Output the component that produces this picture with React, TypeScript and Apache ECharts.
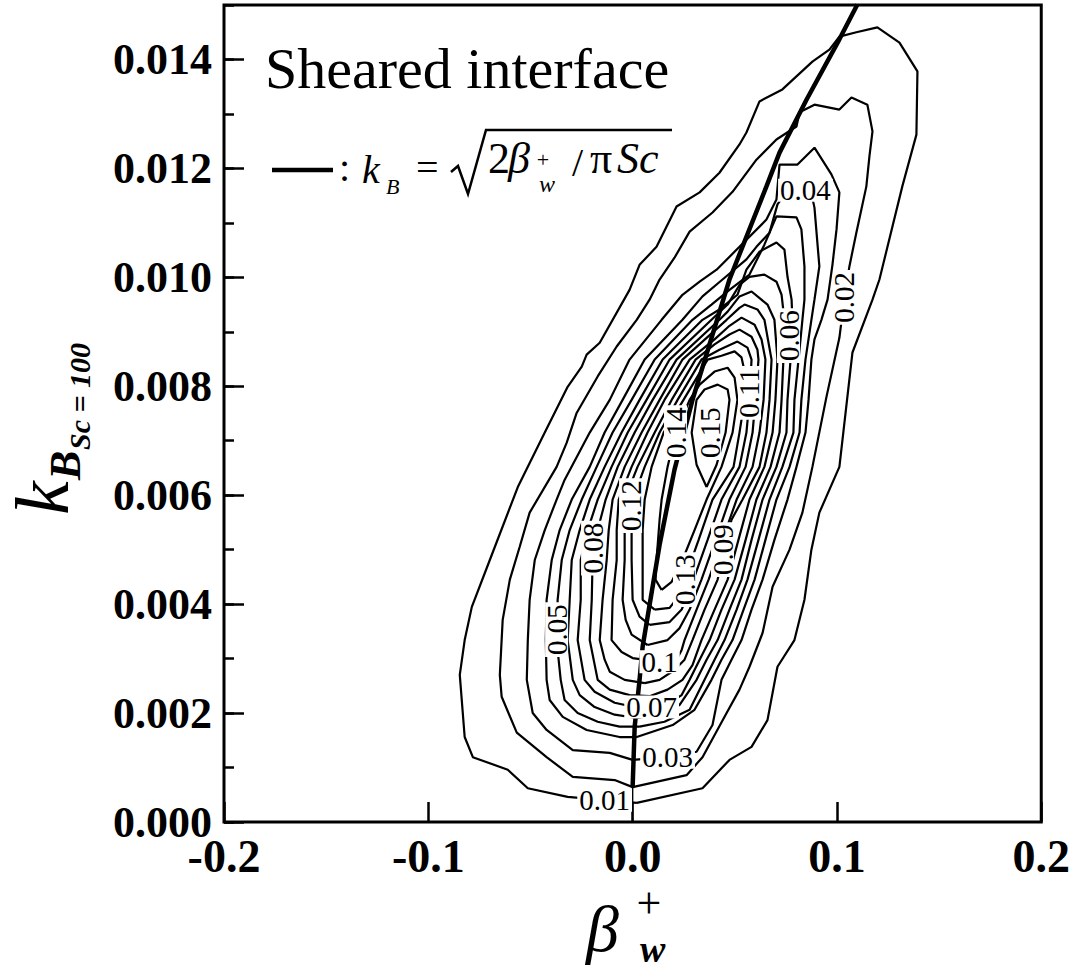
import React, { useEffect, useRef } from "react";
import * as echarts from "echarts";

const SERIF = '"Liberation Serif", "Times New Roman", serif';

// Contour levels of the joint distribution
const levels = [0.01, 0.02, 0.03, 0.04, 0.05, 0.06, 0.07, 0.08, 0.09, 0.1, 0.11, 0.12, 0.13, 0.14, 0.15];

// Closed contour paths, [beta_w+, k_B] pairs, one array per level
const c01 = [
  [0.002, 0.00035], [0.0342, 0.00062], [0.0474, 0.00114], [0.0582, 0.00138], [0.066, 0.00187], [0.0709, 0.00285],
  [0.0792, 0.00334], [0.0841, 0.00408], [0.0875, 0.005], [0.0914, 0.00568], [0.1012, 0.00652], [0.1076, 0.00862],
  [0.1174, 0.00959], [0.1208, 0.00996], [0.132, 0.01167], [0.1389, 0.01262], [0.1394, 0.01378], [0.1306, 0.01431],
  [0.1198, 0.01459], [0.1095, 0.0145], [0.1012, 0.01442], [0.0963, 0.01418], [0.088, 0.01396], [0.0733, 0.01345],
  [0.0621, 0.01323], [0.0557, 0.01266], [0.0523, 0.01244], [0.0425, 0.01192], [0.0328, 0.01156], [0.0215, 0.0113],
  [0.0117, 0.01056], [0.0034, 0.01023], [-0.0015, 0.00977], [-0.0161, 0.0088], [-0.0225, 0.00858], [-0.0249, 0.00836],
  [-0.0318, 0.00799], [-0.043, 0.00715], [-0.0562, 0.00615], [-0.0699, 0.00481], [-0.0787, 0.00395], [-0.0822, 0.00334],
  [-0.0846, 0.0027], [-0.0822, 0.00156], [-0.0782, 0.00119], [-0.0611, 0.00096], [-0.0513, 0.00062], [-0.0318, 0.00046],
  [-0.0137, 0.0004],
];
const c02 = [
  [0, 0.00064], [0.0264, 0.00086], [0.0342, 0.00119], [0.046, 0.002], [0.0523, 0.00243], [0.0572, 0.00285],
  [0.0636, 0.00347], [0.0685, 0.00432], [0.0768, 0.005], [0.0831, 0.00568], [0.088, 0.00652], [0.0949, 0.00781],
  [0.1012, 0.00889], [0.1037, 0.00963], [0.1061, 0.0102], [0.1095, 0.01082], [0.1144, 0.01167], [0.1159, 0.01222],
  [0.1174, 0.01268], [0.1149, 0.01317], [0.1071, 0.0133], [0.1012, 0.01308], [0.089, 0.01317], [0.0817, 0.01303],
  [0.0802, 0.01277], [0.0704, 0.01253], [0.0606, 0.01216], [0.0489, 0.01157], [0.0391, 0.01119], [0.0279, 0.01084],
  [0.0205, 0.01036], [0.0132, 0.00996], [0.0083, 0.00959], [0.002, 0.00922], [-0.0078, 0.00873], [-0.0171, 0.00818],
  [-0.0274, 0.00751], [-0.0323, 0.00696], [-0.0372, 0.00652], [-0.0504, 0.00568], [-0.0553, 0.00505], [-0.0601, 0.00445],
  [-0.0636, 0.00371], [-0.065, 0.0027], [-0.0641, 0.0023], [-0.0567, 0.00164], [-0.0421, 0.00119], [-0.0293, 0.00083],
  [-0.0088, 0.00077],
];
const c03 = [
  [0, 0.00114], [0.0171, 0.00119], [0.0313, 0.00129], [0.0391, 0.00178], [0.0435, 0.00261], [0.0484, 0.00298],
  [0.0533, 0.00334], [0.0582, 0.0039], [0.0636, 0.00445], [0.0694, 0.00518], [0.0758, 0.00592], [0.0802, 0.00652],
  [0.0846, 0.00715], [0.0861, 0.00775], [0.0875, 0.00849], [0.089, 0.00886], [0.0924, 0.00922], [0.0954, 0.00959],
  [0.0978, 0.01023], [0.0998, 0.01088], [0.1012, 0.01156], [0.0973, 0.01189], [0.089, 0.01238], [0.0807, 0.01207],
  [0.0719, 0.01207], [0.0704, 0.01143], [0.0655, 0.01106], [0.0523, 0.01056], [0.0411, 0.01014], [0.0328, 0.00992],
  [0.0244, 0.00968], [0.0142, 0.00922], [-0.0015, 0.00849], [-0.0112, 0.00775], [-0.021, 0.00715], [-0.0333, 0.00628],
  [-0.0372, 0.00592], [-0.043, 0.00536], [-0.0479, 0.00481], [-0.0504, 0.00408], [-0.0513, 0.00334], [-0.0518, 0.00261],
  [-0.0489, 0.002], [-0.0421, 0.00169], [-0.0293, 0.00132], [-0.0112, 0.00127],
];
const c04 = [
  [0.002, 0.00156], [0.0196, 0.00178], [0.0303, 0.00206], [0.0386, 0.00261], [0.0435, 0.00298], [0.0489, 0.00334],
  [0.0543, 0.0039], [0.0597, 0.00445], [0.065, 0.00518], [0.0704, 0.00592], [0.0768, 0.00652], [0.0817, 0.00715],
  [0.0826, 0.00775], [0.0846, 0.00849], [0.0875, 0.00922], [0.089, 0.00959], [0.0914, 0.0102], [0.089, 0.01128],
  [0.0866, 0.0117], [0.0778, 0.0117], [0.0709, 0.01134], [0.067, 0.01082], [0.0606, 0.01056], [0.0557, 0.01033],
  [0.044, 0.00996], [0.0342, 0.00965], [0.0244, 0.00922], [0.0059, 0.00849], [-0.0049, 0.00775], [-0.0137, 0.00715],
  [-0.021, 0.00652], [-0.0298, 0.00592], [-0.0357, 0.00536], [-0.0396, 0.00481], [-0.0421, 0.00408], [-0.0425, 0.00334],
  [-0.0421, 0.00261], [-0.0406, 0.00224], [-0.0342, 0.00193], [-0.0225, 0.00169], [-0.0064, 0.00156],
];
const c05 = [
  [0.0034, 0.00175], [0.0156, 0.00184], [0.0279, 0.00206], [0.0352, 0.00261], [0.0401, 0.00298], [0.045, 0.00334],
  [0.0509, 0.0039], [0.0562, 0.00445], [0.0616, 0.00518], [0.067, 0.00592], [0.0733, 0.00652], [0.0787, 0.00715],
  [0.0792, 0.00775], [0.0812, 0.00849], [0.0831, 0.00922], [0.0841, 0.00959], [0.0841, 0.0102], [0.0826, 0.01088],
  [0.0802, 0.0111], [0.0704, 0.01112], [0.0645, 0.0106], [0.0572, 0.01005], [0.0474, 0.00977], [0.0386, 0.0095],
  [0.0293, 0.00922], [0.0108, 0.00849], [-0.0005, 0.00775], [-0.0098, 0.00715], [-0.0176, 0.00652], [-0.0249, 0.00592],
  [-0.0308, 0.00536], [-0.0347, 0.00481], [-0.0367, 0.00408], [-0.0372, 0.00334], [-0.0352, 0.00261], [-0.0333, 0.00224],
  [-0.0269, 0.002], [-0.0171, 0.00184], [-0.0064, 0.00175],
];
const c06 = [
  [0.002, 0.00191], [0.0132, 0.00198], [0.023, 0.00215], [0.0313, 0.00261], [0.0362, 0.00298], [0.0416, 0.00334],
  [0.0474, 0.0039], [0.0533, 0.00445], [0.0582, 0.00518], [0.0636, 0.00592], [0.0704, 0.00652], [0.0753, 0.00715],
  [0.0758, 0.00775], [0.0773, 0.00849], [0.0778, 0.00893], [0.0782, 0.00922], [0.0778, 0.00959], [0.0758, 0.01001],
  [0.0743, 0.01051], [0.0704, 0.01064], [0.0621, 0.01047], [0.0557, 0.01014], [0.0513, 0.00968], [0.0425, 0.00941],
  [0.0342, 0.00922], [0.0147, 0.00849], [0.0034, 0.00775], [-0.0054, 0.00715], [-0.0137, 0.00652], [-0.021, 0.00592],
  [-0.0259, 0.00536], [-0.0298, 0.00481], [-0.0308, 0.00408], [-0.0318, 0.00334], [-0.0293, 0.00261], [-0.0259, 0.00233],
  [-0.0186, 0.00211], [-0.0088, 0.00197],
];
const c07 = [
  [0.0034, 0.00209], [0.0181, 0.00219], [0.024, 0.00233], [0.0279, 0.00261], [0.0328, 0.00298], [0.0377, 0.00334],
  [0.0435, 0.0039], [0.0499, 0.00445], [0.0553, 0.00518], [0.0606, 0.00592], [0.0675, 0.00652], [0.0719, 0.00715],
  [0.0729, 0.00775], [0.0738, 0.00849], [0.0743, 0.00922], [0.0729, 0.00968], [0.0704, 0.00992], [0.0645, 0.01005],
  [0.0572, 0.01001], [0.0523, 0.00986], [0.0465, 0.0095], [0.0386, 0.00922], [0.0181, 0.00849], [0.0068, 0.00775],
  [-0.0024, 0.00715], [-0.0103, 0.00652], [-0.0171, 0.00592], [-0.022, 0.00536], [-0.0254, 0.00481], [-0.0254, 0.00408],
  [-0.0269, 0.00334], [-0.0235, 0.00261], [-0.0186, 0.00239], [-0.0088, 0.00219],
];
const c08 = [
  [0.0083, 0.00231], [0.0171, 0.00243], [0.0244, 0.00261], [0.0293, 0.00288], [0.0337, 0.00334], [0.0401, 0.0039],
  [0.0465, 0.00445], [0.0518, 0.00518], [0.0572, 0.00592], [0.0645, 0.00652], [0.0685, 0.00715], [0.0699, 0.00775],
  [0.0709, 0.00849], [0.0694, 0.00922], [0.066, 0.0095], [0.0582, 0.00974], [0.0523, 0.00965], [0.0465, 0.00937],
  [0.0425, 0.00922], [0.0215, 0.00849], [0.0098, 0.00775], [0.001, 0.00715], [-0.0073, 0.00652], [-0.0132, 0.00592],
  [-0.0171, 0.00536], [-0.0196, 0.00481], [-0.02, 0.00408], [-0.021, 0.00334], [-0.0171, 0.00261], [-0.0112, 0.00243],
  [-0.0015, 0.00233],
];
const c09 = [
  [0.0059, 0.00255], [0.0132, 0.00261], [0.0205, 0.00279], [0.0254, 0.00298], [0.0293, 0.00334], [0.0352, 0.0039],
  [0.0416, 0.00445], [0.045, 0.005], [0.0484, 0.00555], [0.0538, 0.00592], [0.0621, 0.00652], [0.0655, 0.00715],
  [0.067, 0.00775], [0.068, 0.00849], [0.0645, 0.00922], [0.0611, 0.00941], [0.0548, 0.0095], [0.0523, 0.00944],
  [0.046, 0.00922], [0.0244, 0.00849], [0.0132, 0.00775], [0.0044, 0.00715], [-0.0039, 0.00652], [-0.0098, 0.00592],
  [-0.0117, 0.00536], [-0.0127, 0.00481], [-0.0147, 0.00408], [-0.0161, 0.00334], [-0.0137, 0.00298], [-0.0112, 0.00276],
  [-0.0039, 0.00261],
];
const c10 = [
  [0.0132, 0.00294], [0.0215, 0.00298], [0.024, 0.00316], [0.0254, 0.00334], [0.0313, 0.0039], [0.0372, 0.00445],
  [0.044, 0.00518], [0.0509, 0.00592], [0.0587, 0.00652], [0.0621, 0.00715], [0.0641, 0.00775], [0.065, 0.00849],
  [0.0631, 0.00886], [0.0597, 0.00913], [0.0533, 0.00926], [0.0474, 0.00911], [0.0401, 0.00886], [0.0279, 0.00849],
  [0.0156, 0.00775], [0.0073, 0.00715], [-0.0005, 0.00652], [-0.0068, 0.00592], [-0.0078, 0.00536], [-0.0078, 0.00481],
  [-0.0098, 0.00408], [-0.0103, 0.00334], [-0.0054, 0.00312], [0, 0.00301],
];
const c11 = [
  [0.0073, 0.00325], [0.0171, 0.00334], [0.023, 0.00356], [0.0279, 0.0039], [0.0337, 0.00445], [0.0406, 0.00518],
  [0.0474, 0.00592], [0.0553, 0.00652], [0.0587, 0.00715], [0.0601, 0.00775], [0.0616, 0.00849], [0.0611, 0.00867],
  [0.0582, 0.00891], [0.0523, 0.00904], [0.0474, 0.00895], [0.0401, 0.00877], [0.0308, 0.00849], [0.0191, 0.00775],
  [0.0108, 0.00715], [0.0024, 0.00652], [-0.0039, 0.00592], [-0.0039, 0.00536], [-0.0039, 0.00481], [-0.0049, 0.00408],
  [-0.0034, 0.00371], [-0.0005, 0.00344],
];
const c12 = [
  [0.0083, 0.00362], [0.0181, 0.00367], [0.024, 0.0039], [0.0298, 0.00445], [0.0367, 0.00518], [0.0435, 0.00592],
  [0.0523, 0.00652], [0.0557, 0.00715], [0.0572, 0.00775], [0.0582, 0.00849], [0.0562, 0.00871], [0.0513, 0.00882],
  [0.0425, 0.00867], [0.0337, 0.00849], [0.022, 0.00775], [0.0132, 0.00715], [0.0059, 0.00652], [-0.001, 0.00581],
  [-0.0005, 0.00536], [-0.0005, 0.00481], [0, 0.00408], [0.0034, 0.00377],
];
const c13 = [
  [0.0108, 0.0039], [0.0181, 0.00393], [0.022, 0.00412], [0.0254, 0.00445], [0.0323, 0.00518], [0.0391, 0.00592],
  [0.0494, 0.00652], [0.0523, 0.00715], [0.0548, 0.00775], [0.0548, 0.00827], [0.0533, 0.00853], [0.0499, 0.00864],
  [0.0435, 0.00856], [0.0367, 0.00849], [0.0249, 0.00775], [0.0152, 0.00715], [0.0093, 0.00652], [0.0059, 0.00592],
  [0.0049, 0.00536], [0.0049, 0.00481], [0.0049, 0.00408],
];
const c14 = [
  [0.0142, 0.00426], [0.0191, 0.00441], [0.0244, 0.00481], [0.0303, 0.00536], [0.0362, 0.00592], [0.0435, 0.00652],
  [0.0489, 0.00715], [0.0513, 0.00775], [0.0499, 0.00816], [0.0465, 0.00834], [0.0401, 0.00827], [0.0328, 0.00803],
  [0.0279, 0.00775], [0.021, 0.00715], [0.0171, 0.00652], [0.0142, 0.00592], [0.0132, 0.00555], [0.0117, 0.00481],
  [0.0112, 0.00445],
];
const c15 = [
  [0.0362, 0.00615], [0.0411, 0.00656], [0.0455, 0.00715], [0.0474, 0.00775], [0.0465, 0.00794], [0.0416, 0.00803],
  [0.0352, 0.00794], [0.0313, 0.00775], [0.0289, 0.00715], [0.0313, 0.00656],
];
const contours = [c01, c02, c03, c04, c05, c06, c07, c08, c09, c10, c11, c12, c13, c14, c15];

// Where each level's value is written on its contour
const labelAnchors = [
  [-0.0137, 0.0004], [0.1037, 0.00963], [0.0171, 0.00119], [0.0846, 0.0116], [-0.0372, 0.00353],
  [0.0763, 0.00893], [0.0093, 0.00211], [-0.0196, 0.00503], [0.044, 0.005], [0.0132, 0.00294],
  [0.0572, 0.00788], [-0.001, 0.00581], [0.0254, 0.00445], [0.021, 0.00715], [0.0377, 0.00715],
];
const labelVertical = [false, true, false, false, true, true, false, true, true, false, true, true, true, true, true];

// k_B = sqrt(2 beta_w+ / (pi Sc)) curve; the foot near the origin is drawn thin
const kbFoot = [[0, 0], [0, 0.00064]];
const kbCurve = [
  [0, 0.00064], [0.001, 0.00175], [0.0034, 0.00261], [0.0049, 0.00322], [0.0132, 0.00509],
  [0.0205, 0.00647], [0.0293, 0.00775], [0.0474, 0.00996], [0.0655, 0.01167], [0.0719, 0.01229],
  [0.0851, 0.01326], [0.1012, 0.01437], [0.11, 0.01501],
];

const xRange = [-0.2, 0.2];
const yRange = [0, 0.015];

function txt(text: string, x: number, y: number, size: number, opts: any = {}) {
  return {
    type: "text",
    x,
    y,
    z: 100,
    silent: true,
    style: {
      text,
      fill: "#000",
      fontFamily: SERIF,
      fontSize: size,
      fontStyle: opts.italic ? "italic" : "normal",
      fontWeight: opts.bold ? "bold" : "normal",
      align: opts.align || "left",
      textAlign: opts.align || "left",
      verticalAlign: "middle",
      textVerticalAlign: "middle",
    },
  };
}

export default function App() {
  const ref = useRef<HTMLDivElement>(null);

  useEffect(() => {
    if (!ref.current) return;
    const chart = echarts.init(ref.current, undefined, { renderer: "svg" });

    const tickStyle = { color: "#000", width: 2.5 };

    const contourSeries = contours.map((pts, i) => ({
      type: "line",
      name: "level " + levels[i],
      data: [...pts, pts[0]],
      showSymbol: false,
      symbol: "none",
      silent: true,
      z: 2,
      lineStyle: { color: "#000", width: 2.2 },
    }));

    const option: any = {
      animation: false,
      backgroundColor: "#fff",
      grid: {
        left: 224,
        top: 5,
        width: 818,
        height: 817,
        show: true,
        borderColor: "#000",
        borderWidth: 3,
        backgroundColor: "transparent",
      },
      xAxis: {
        type: "value",
        min: xRange[0],
        max: xRange[1],
        interval: 0.1,
        axisLine: { show: false, onZero: false },
        axisTick: { show: true, inside: true, length: 20, lineStyle: tickStyle },
        splitLine: { show: false },
        axisLabel: {
          margin: 11,
          color: "#000",
          fontFamily: SERIF,
          fontWeight: "bold",
          fontSize: 46,
          formatter: (v: number) => (Math.abs(v) < 1e-9 ? "0.0" : v.toFixed(1)),
        },
      },
      yAxis: [
        {
          type: "value",
          min: yRange[0],
          max: yRange[1],
          interval: 0.002,
          position: "left",
          axisLine: { show: false, onZero: false },
          axisTick: { show: true, inside: true, length: 20, lineStyle: tickStyle },
          splitLine: { show: false },
          axisLabel: {
            margin: 12,
            color: "#000",
            fontFamily: SERIF,
            fontWeight: "bold",
            fontSize: 44,
            showMaxLabel: false,
            formatter: (v: number) => v.toFixed(3),
          },
        },
        {
          type: "value",
          min: yRange[0],
          max: yRange[1],
          interval: 0.001,
          position: "left",
          axisLine: { show: false, onZero: false },
          axisTick: { show: true, inside: true, length: 10, lineStyle: tickStyle },
          splitLine: { show: false },
          axisLabel: { show: false },
        },
      ],
      series: [
        ...contourSeries,
        {
          type: "line",
          name: "kB foot",
          data: kbFoot,
          showSymbol: false,
          symbol: "none",
          silent: true,
          z: 3,
          lineStyle: { color: "#000", width: 1.5 },
        },
        {
          type: "line",
          name: "kB",
          data: kbCurve,
          showSymbol: false,
          symbol: "none",
          silent: true,
          z: 3,
          lineStyle: { color: "#000", width: 4.5 },
        },
      ],
    };

    chart.setOption(option);

    // level values written on the contours, placed through the axes' scales
    const levelLabels = labelAnchors.map((p, i) => {
      const pix = chart.convertToPixel({ xAxisIndex: 0, yAxisIndex: 0 }, p) as number[];
      return {
        type: "text",
        x: pix[0],
        y: pix[1],
        rotation: labelVertical[i] ? Math.PI / 2 : 0,
        z: 100,
        silent: true,
        style: {
          text: String(levels[i]),
          fill: "#000",
          fontFamily: SERIF,
          fontSize: 29,
          align: "center",
          textAlign: "center",
          verticalAlign: "middle",
          textVerticalAlign: "middle",
          backgroundColor: "#fff",
          padding: [0, 2],
          lineHeight: 23,
        },
      };
    });

    const decorations = [
      // panel title
      txt("Sheared interface", 265, 68, 58),
      // legend: line sample and formula
      {
        type: "line",
        z: 100,
        silent: true,
        shape: { x1: 272, y1: 170, x2: 333, y2: 170 },
        style: { stroke: "#000", lineWidth: 4.5 },
      },
      txt(":", 339, 167, 40),
      txt("k", 362, 169, 40, { italic: true }),
      txt("B", 386, 186, 22, { italic: true }),
      txt("=", 416, 167, 40),
      {
        type: "polyline",
        z: 100,
        silent: true,
        shape: { points: [[451, 172], [458, 166], [468, 194], [486, 130], [672, 130]] },
        style: { stroke: "#000", lineWidth: 2.5, fill: null },
      },
      txt("2", 488, 158, 44),
      txt("\u03B2", 508, 158, 44, { italic: true }),
      txt("+", 543, 159, 22, { align: "center" }),
      txt("w", 539, 184, 24, { italic: true }),
      txt("/", 572, 162, 40),
      txt("\u03C0", 590, 158, 44),
      txt("Sc", 617, 158, 44, { italic: true }),
      // x-axis title
      txt("\u03B2", 586, 928, 66, { italic: true }),
      txt("+", 649, 903, 44, { align: "center" }),
      txt("w", 640, 949, 38, { italic: true, bold: true }),
      // y-axis title, reading upward
      {
        type: "group",
        x: 0,
        y: 515,
        rotation: Math.PI / 2,
        silent: true,
        z: 100,
        children: [
          txt("k", 0, 42, 76, { italic: true }),
          txt("B", 35, 65, 44, { italic: true, bold: true }),
          txt("Sc = 100", 65, 79, 30, { italic: true, bold: true }),
        ],
      },
    ];

    chart.setOption({ graphic: [...decorations, ...levelLabels] });
    return () => chart.dispose();
  }, []);

  return (
    <div
      ref={ref}
      style={{ position: "absolute", left: 0, top: 0, width: 1073, height: 973, background: "#fff" }}
    />
  );
}
